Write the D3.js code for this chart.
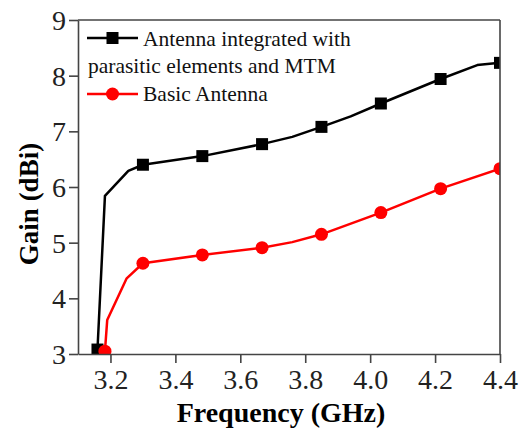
<!DOCTYPE html>
<html>
<head>
<meta charset="utf-8">
<script src="https://cdn.jsdelivr.net/npm/d3@7"></script>
<style>
  body { margin: 0; background: #fff; }
  text { font-family: "Liberation Serif", "Times New Roman", serif; }
</style>
</head>
<body>
<div id="chart"></div>
<script>
// ---- data ----
var blackLineX = [3.16, 3.183, 3.255, 3.3, 3.483, 3.667, 3.76, 3.85, 3.94, 4.033, 4.217, 4.33, 4.4];
var blackLineY = [3.08, 5.84, 6.29, 6.4, 6.555, 6.77, 6.9, 7.08, 7.27, 7.50, 7.94, 8.19, 8.23];
var blackMarkX = [3.16, 3.3, 3.483, 3.667, 3.85, 4.033, 4.217, 4.4];
var blackMarkY = [3.08, 6.4, 6.555, 6.77, 7.08, 7.50, 7.94, 8.23];

var redLineX = [3.183, 3.19, 3.25, 3.3, 3.483, 3.667, 3.76, 3.85, 4.033, 4.217, 4.4];
var redLineY = [3.05, 3.61, 4.36, 4.63, 4.78, 4.91, 5.01, 5.15, 5.54, 5.97, 6.33];
var redMarkX = [3.183, 3.3, 3.483, 3.667, 3.85, 4.033, 4.217, 4.4];
var redMarkY = [3.05, 4.63, 4.78, 4.91, 5.15, 5.54, 5.97, 6.33];

var xTicks = [3.2, 3.4, 3.6, 3.8, 4.0, 4.2, 4.4];
var yTicks = [3, 4, 5, 6, 7, 8, 9];
var legendLabels = ["Antenna integrated with", "parasitic elements and MTM", "Basic Antenna"];

function renderGainChart() {
  // plot box (note: "top" is reserved on window, so keep it in here)
  var W = 527, H = 430;
  var box = { left: 78, right: 500, top: 20, bottom: 354 };

  var svg = d3.select("#chart").append("svg")
    .attr("width", W).attr("height", H);

  var x = d3.scaleLinear().domain([3.1, 4.4]).range([box.left, box.right]);
  var y = d3.scaleLinear().domain([3, 9]).range([box.bottom, box.top]);

  svg.append("defs").append("clipPath").attr("id", "plotclip")
    .append("rect")
    .attr("x", box.left).attr("y", box.top)
    .attr("width", box.right - box.left).attr("height", box.bottom - box.top);

  // series first, axes drawn over them
  var line = d3.line().x(d => x(d[0])).y(d => y(d[1]));
  var plot = svg.append("g").attr("clip-path", "url(#plotclip)");

  plot.append("path").datum(d3.zip(redLineX, redLineY)).attr("d", line)
    .attr("fill", "none").attr("stroke", "#ff0000").attr("stroke-width", 2.5)
    .attr("stroke-linejoin", "round");
  plot.append("path").datum(d3.zip(blackLineX, blackLineY)).attr("d", line)
    .attr("fill", "none").attr("stroke", "#000").attr("stroke-width", 2.5)
    .attr("stroke-linejoin", "round");

  var sq = 12;
  plot.selectAll("rect.bm")
    .data(d3.zip(blackMarkX, blackMarkY)).enter().append("rect")
    .attr("class", "bm")
    .attr("x", d => x(d[0]) - sq / 2).attr("y", d => y(d[1]) - sq / 2)
    .attr("width", sq).attr("height", sq).attr("fill", "#000");

  plot.selectAll("circle.rm")
    .data(d3.zip(redMarkX, redMarkY)).enter().append("circle")
    .attr("class", "rm")
    .attr("cx", d => x(d[0])).attr("cy", d => y(d[1]))
    .attr("r", 6.5).attr("fill", "#ff0000");

  // axes
  var xAxis = svg.append("g")
    .attr("transform", "translate(0," + box.bottom + ")")
    .call(d3.axisBottom(x).tickValues(xTicks).tickFormat(d3.format(".1f")).tickSize(9).tickSizeOuter(0));
  var yAxis = svg.append("g")
    .attr("transform", "translate(" + box.left + ",0)")
    .call(d3.axisLeft(y).tickValues(yTicks).tickFormat(d3.format("d")).tickSize(9).tickSizeOuter(0));

  [xAxis, yAxis].forEach(function (g) {
    g.select(".domain").attr("stroke", "#444").attr("stroke-width", 1.6);
    g.selectAll(".tick line").attr("stroke", "#444").attr("stroke-width", 1.6);
    g.selectAll(".tick text").attr("fill", "#222").style("font-size", "28px")
      .style("font-family", "'Liberation Serif', serif");
  });
  xAxis.selectAll(".tick text").attr("y", 10).attr("dy", "0.9em");
  yAxis.selectAll(".tick text").attr("x", -12).attr("dy", "0.34em");

  // top + right frame
  svg.append("line").attr("x1", box.left).attr("x2", box.right).attr("y1", box.top).attr("y2", box.top)
    .attr("stroke", "#444").attr("stroke-width", 1.6);
  svg.append("line").attr("x1", box.right).attr("x2", box.right).attr("y1", box.top).attr("y2", box.bottom)
    .attr("stroke", "#444").attr("stroke-width", 1.6);

  // axis titles
  svg.append("text")
    .attr("x", 281).attr("y", 422)
    .attr("text-anchor", "middle")
    .style("font-size", "28px").style("font-weight", "bold")
    .text("Frequency (GHz)");

  svg.append("text")
    .attr("transform", "translate(38,204)rotate(-90)")
    .attr("text-anchor", "middle")
    .style("font-size", "27px").style("font-weight", "bold")
    .text("Gain (dBi)");

  // legend
  var lg = svg.append("g");
  lg.append("line").attr("x1", 87).attr("x2", 138).attr("y1", 38).attr("y2", 38)
    .attr("stroke", "#000").attr("stroke-width", 2.5);
  lg.append("rect").attr("x", 112.5 - sq / 2).attr("y", 38 - sq / 2)
    .attr("width", sq).attr("height", sq).attr("fill", "#000");
  lg.append("line").attr("x1", 87).attr("x2", 138).attr("y1", 94).attr("y2", 94)
    .attr("stroke", "#ff0000").attr("stroke-width", 2.5);
  lg.append("circle").attr("cx", 112.5).attr("cy", 94).attr("r", 6.5).attr("fill", "#ff0000");

  lg.append("text").attr("x", 143).attr("y", 46).style("font-size", "21.5px").attr("fill", "#111").text(legendLabels[0]);
  lg.append("text").attr("x", 88).attr("y", 73).style("font-size", "21.5px").attr("fill", "#111").text(legendLabels[1]);
  lg.append("text").attr("x", 143).attr("y", 101).style("font-size", "21.5px").attr("fill", "#111").text(legendLabels[2]);
}

renderGainChart();
</script>
</body>
</html>
